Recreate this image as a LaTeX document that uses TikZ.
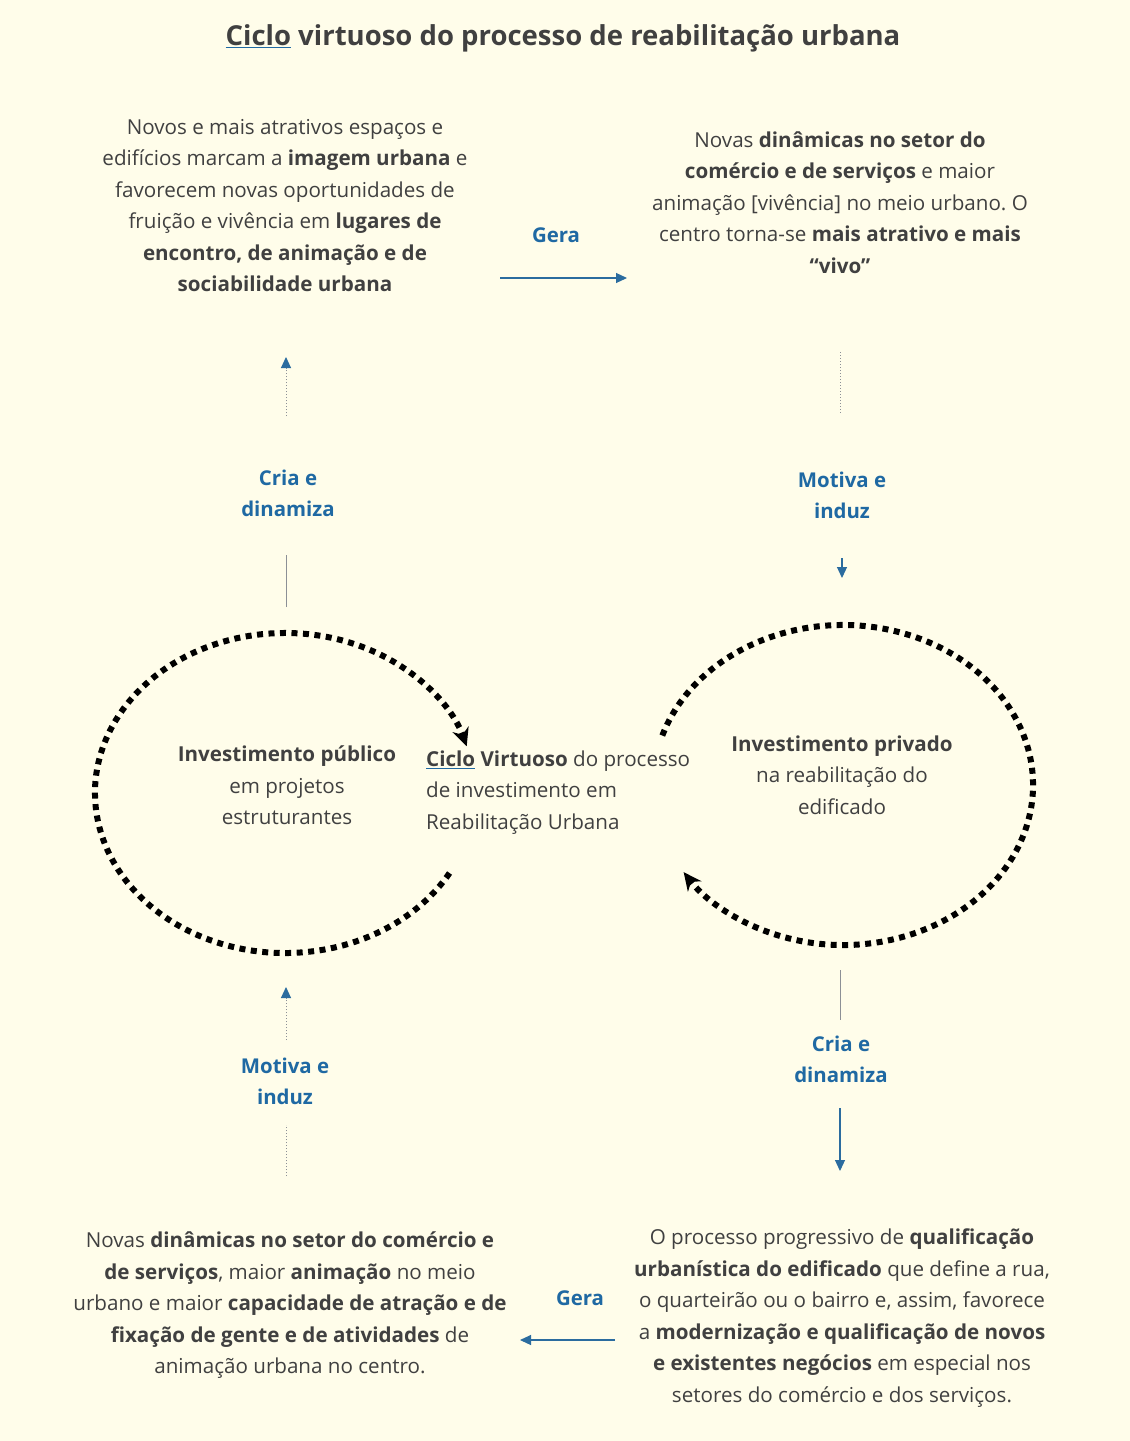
\documentclass[tikz,border=0pt]{standalone}
\usepackage{fontspec}
\setmainfont{Open Sans}
\usetikzlibrary{arrows.meta}
\frenchspacing
\definecolor{paper}{HTML}{FFFDEA}
\definecolor{txtgray}{HTML}{404040}
\definecolor{lblblue}{HTML}{1F69A3}
\definecolor{arrblue}{HTML}{2B6C9F}
\definecolor{linegray}{HTML}{8C9096}
\newcommand{\ciclo}{{\color{lblblue}\underline{\color{txtgray}Ciclo}}}
\begin{document}
\begin{tikzpicture}[x=1pt,y=-1pt,line join=round,>={Triangle[length=11pt,width=10pt]}]
\tikzset{txt/.style={font=\fontsize{20.6}{31.5}\selectfont,text=txtgray,align=center,inner sep=0pt},
	lbl/.style={font=\fontsize{20.4}{31}\selectfont\bfseries,text=lblblue,align=center,inner sep=0pt},
	solidlink/.style={linegray,line width=0.9pt},
	dotlink/.style={linegray,line width=1pt,dotted},
	uptip/.style={-{Triangle[length=11pt,width=10pt,color=arrblue]}},
	flow/.style={arrblue,line width=1.1pt},
	ring/.style={line width=6pt,dash pattern=on 6pt off 5.5pt,-{Stealth[length=18pt,width=17pt]}}}
\fill[paper] (0,0) rectangle (1130,1441);
\node[font=\fontsize{27.5}{32}\selectfont\bfseries,text=txtgray] (title) at (563,38) {\ciclo\ virtuoso do processo de reabilitação urbana};
\node[txt] (tl) at (285,205.5) {Novos e mais atrativos espaços e\\ edifícios marcam a \textbf{imagem urbana} e\\ favorecem novas oportunidades de\\ fruição e vivência em \textbf{lugares de}\\ \textbf{encontro, de animação e de}\\ \textbf{sociabilidade urbana}};
\node[txt] (tr) at (840,202.5) {Novas \textbf{dinâmicas no setor do}\\ \textbf{comércio e de serviços} e maior\\ animação [vivência] no meio urbano. O\\ centro torna-se \textbf{mais atrativo e mais}\\ \textbf{“vivo”}};
\node[txt] (pub) at (287,785.5) {\textbf{Investimento público}\\ em projetos\\ estruturantes};
\node[txt] (priv) at (842,775) {\textbf{Investimento privado}\\ na reabilitação do\\ edificado};
\node[txt,align=left,anchor=west] (mid) at (426,792.5) {\textbf{\ciclo\ Virtuoso} do processo\\ de investimento em\\ Reabilitação Urbana};
\node[txt] (bl) at (290,1305.5) {Novas \textbf{dinâmicas no setor do comércio e}\\ \textbf{de serviços}, maior \textbf{animação} no meio\\ urbano e maior \textbf{capacidade de atração e de}\\ \textbf{fixação de gente e de atividades} de\\ animação urbana no centro.};
\node[txt] (br) at (842,1318) {O processo progressivo de \textbf{qualificação}\\ \textbf{urbanística do edificado} que define a rua,\\ o quarteirão ou o bairro e, assim, favorece\\ a \textbf{modernização e qualificação de novos}\\ \textbf{e existentes negócios} em especial nos\\ setores do comércio e dos serviços.};
\node[lbl] (gera1) at (556,235) {Gera};
\node[lbl] (gera2) at (580,1298) {Gera};
\node[lbl] (cria1) at (288,493.5) {Cria e\\ dinamiza};
\node[lbl] (motiva1) at (842,495.5) {Motiva e\\ induz};
\node[lbl] (cria2) at (841,1059.5) {Cria e\\ dinamiza};
\node[lbl] (motiva2) at (285,1081.5) {Motiva e\\ induz};
\coordinate (ringA) at (285,793);
\coordinate (ringB) at (843,785);
\draw[ring] (ringA) ++(30:190 and 160) arc[start angle=30,end angle=343,x radius=190,y radius=160];
\draw[ring] (ringB) ++(198:190 and 160) arc[start angle=198,end angle=507,x radius=190,y radius=160];
\coordinate (g1a) at (500,278); \coordinate (g1b) at (627,278);
\coordinate (g2a) at (615,1340); \coordinate (g2b) at (520,1340);
\coordinate (c1a) at (286,607); \coordinate (c1b) at (286,555);
\coordinate (c1c) at (286,416); \coordinate (c1d) at (286,357);
\coordinate (m1a) at (840,352); \coordinate (m1b) at (840,413);
\coordinate (m1c) at (842,558); \coordinate (m1d) at (842,578);
\coordinate (c2a) at (840,970); \coordinate (c2b) at (840,1020);
\coordinate (c2c) at (840,1108); \coordinate (c2d) at (840,1171);
\coordinate (m2a) at (286,1176); \coordinate (m2b) at (286,1125);
\coordinate (m2c) at (286,1040); \coordinate (m2d) at (286,987);
\draw[flow,->] (g1a) -- (g1b);
\draw[flow,->] (g2a) -- (g2b);
\draw[solidlink] (c1a) -- (c1b);
\draw[dotlink,uptip] (c1c) -- (c1d);
\draw[dotlink] (m1a) -- (m1b);
\draw[flow,->] (m1c) -- (m1d);
\draw[solidlink] (c2a) -- (c2b);
\draw[flow,->] (c2c) -- (c2d);
\draw[dotlink] (m2a) -- (m2b);
\draw[dotlink,uptip] (m2c) -- (m2d);
\end{tikzpicture}
\end{document}
